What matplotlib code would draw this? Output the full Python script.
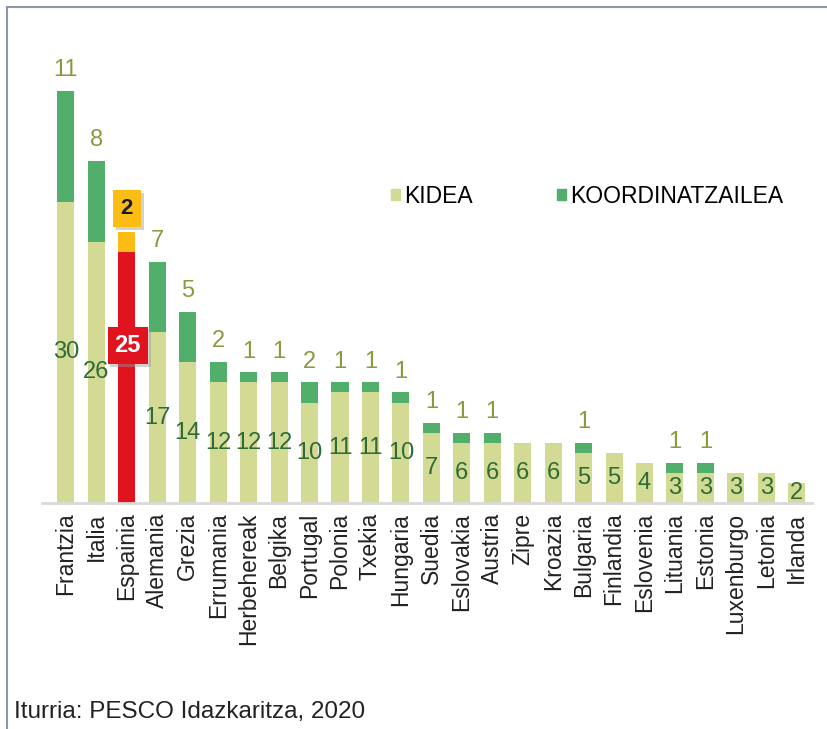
import matplotlib.pyplot as plt
import matplotlib.patheffects as pe
from matplotlib.lines import Line2D
from matplotlib.patches import Patch

# data
countries = ['Frantzia', 'Italia', 'Espainia', 'Alemania', 'Grezia', 'Errumania',
             'Herbehereak', 'Belgika', 'Portugal', 'Polonia', 'Txekia', 'Hungaria',
             'Suedia', 'Eslovakia', 'Austria', 'Zipre', 'Kroazia', 'Bulgaria',
             'Finlandia', 'Eslovenia', 'Lituania', 'Estonia', 'Luxenburgo',
             'Letonia', 'Irlanda']
kidea = [30, 26, 25, 17, 14, 12, 12, 12, 10, 11, 11, 10, 7, 6, 6, 6, 6, 5, 5, 4, 3, 3, 3, 3, 2]
koord = [11, 8, 2, 7, 5, 2, 1, 1, 2, 1, 1, 1, 1, 1, 1, 0, 0, 1, 0, 0, 1, 1, 0, 0, 0]
highlight = 'Espainia'

C_KIDEA = '#d3da94'
C_KOORD = '#52ae6b'
C_TOP = '#8b9a3e'
C_IN = '#2e6b35'
C_RED = '#e0141e'
C_YEL = '#fbbd14'

plt.rcParams['font.family'] = ['Liberation Sans', 'DejaVu Sans']

W, H = 827, 729
fig = plt.figure(figsize=(W / 100, H / 100), dpi=100)
ax_left, ax_right, ax_bottom, ax_top = 41.6, 812, 503, 51
ax = fig.add_axes([ax_left / W, 1 - ax_bottom / H, (ax_right - ax_left) / W, (ax_bottom - ax_top) / H])

x = list(range(len(countries)))
bw = 0.56
for i, c in enumerate(countries):
    if c == highlight:
        ax.bar(i, kidea[i], bw, color=C_RED, zorder=2)
        ax.bar(i, koord[i], bw, bottom=kidea[i], color=C_YEL, zorder=2)
    else:
        ax.bar(i, kidea[i], bw, color=C_KIDEA, zorder=2)
        if koord[i] > 0:
            ax.bar(i, koord[i], bw, bottom=kidea[i], color=C_KOORD, zorder=2)

shadow = [pe.withSimplePatchShadow(offset=(2, -2), shadow_rgbFace='#999999', alpha=0.45)]
for i, c in enumerate(countries):
    if c == highlight:
        t1 = ax.text(i + 0.03, 15.7, str(kidea[i]), ha='center', va='center', fontsize=17,
                     fontweight='bold', color='white', zorder=5,
                     bbox=dict(boxstyle='square,pad=0.3', fc=C_RED, ec='none'))
        t2 = ax.text(i, 29.3, str(koord[i]), ha='center', va='center', fontsize=16,
                     fontweight='bold', color='#1a1a1a', zorder=5,
                     bbox=dict(boxstyle='square,pad=0.35', fc=C_YEL, ec='none'))
        fig.canvas.draw()
        for t in (t1, t2):
            t.get_bbox_patch().set_path_effects(shadow)
        continue
    ax.text(i, kidea[i] / 2, str(kidea[i]), ha='center', va='center',
            fontsize=17, color=C_IN, zorder=3)
    if koord[i] > 0:
        ax.annotate(str(koord[i]), (i, kidea[i] + koord[i]), xytext=(0, 15),
                    textcoords='offset points', ha='center', va='center',
                    fontsize=17, color=C_TOP)

ax.set_xlim(-0.8, len(countries) - 0.5)
ax.set_ylim(0, (ax_bottom - ax_top) / 10.05)
ax.set_xticks(x)
ax.set_xticklabels(countries, rotation=90, fontsize=16.5, color='#222222')
ax.tick_params(axis='x', length=0, pad=7)
ax.set_yticks([])
for s in ['top', 'right', 'left']:
    ax.spines[s].set_visible(False)
ax.spines['bottom'].set_color('#d9d9d9')
ax.spines['bottom'].set_linewidth(2)

handles = [Patch(color=C_KIDEA, label='KIDEA'), Patch(color=C_KOORD, label='KOORDINATZAILEA')]
ax.legend(handles=handles, loc='center left', bbox_to_anchor=(0.4535, 0.679), ncol=2,
          frameon=False, fontsize=16.5, handlelength=0.4, handleheight=0.4,
          handletextpad=0.17, columnspacing=3.67, borderpad=0, borderaxespad=0)

# frame lines and source note
fig.add_artist(Line2D([7 / W, 1], [1 - 7 / H, 1 - 7 / H], color='#8c96a6', lw=1.5))
fig.add_artist(Line2D([7 / W, 7 / W], [0, 1 - 7 / H], color='#8c96a6', lw=1.5))
fig.text(14 / W, 1 - 712 / H, 'Iturria: PESCO Idazkaritza, 2020', fontsize=17.5,
         va='center', color='#222222')

fig.savefig('out.png', dpi=100)
